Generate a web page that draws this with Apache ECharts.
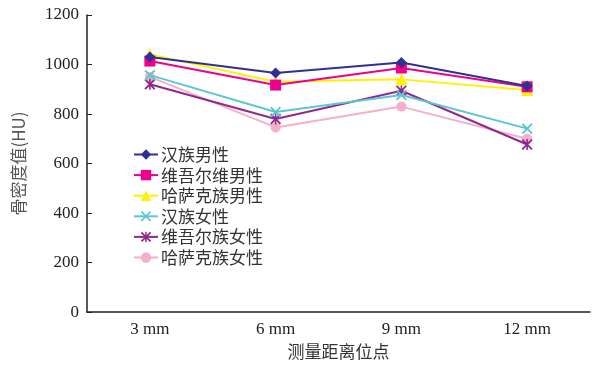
<!DOCTYPE html>
<html><head><meta charset="utf-8">
<script src="https://cdn.jsdelivr.net/npm/echarts@6/dist/echarts.min.js"></script>
<style>html,body{margin:0;padding:0;background:#fff}#c{width:595px;height:365px}</style>
</head><body><div id="c"></div>
<script>
const categories = ['3 mm', '6 mm', '9 mm', '12 mm'];
const seriesNames = ['汉族男性', '维吾尔维男性', '哈萨克族男性', '汉族女性', '维吾尔族女性', '哈萨克族女性'];
const hanMale = [1030, 966, 1008, 913];
const uyghurMale = [1014, 917, 986, 910];
const kazakhMale = [1041, 930, 940, 897];
const hanFemale = [957, 808, 877, 741];
const uyghurFemale = [920, 780, 894, 677];
const kazakhFemale = [950, 746, 830, 700];
const yTicks = [0, 200, 400, 600, 800, 1000, 1200];

const colors = ['#2E3192', '#EC008C', '#FFF200', '#5BC8D0', '#92278F', '#F4AFCB'];
const X = 'path://M0,1.2 L1.2,0 L5,3.8 L8.8,0 L10,1.2 L6.2,5 L10,8.8 L8.8,10 L5,6.2 L1.2,10 L0,8.8 L3.8,5 Z';
const AST = 'path://M0,1.2 L1.2,0 L5,3.8 L8.8,0 L10,1.2 L6.2,5 L10,8.8 L8.8,10 L5,6.2 L1.2,10 L0,8.8 L3.8,5 Z M4.3,0 L5.7,0 L5.7,10 L4.3,10 Z';
const symbols = ['diamond', 'rect', 'triangle', X, AST, 'circle'];
const sizes = [11, 11, 12, 11, 11, 10];
const datas = [hanMale, uyghurMale, kazakhMale, hanFemale, uyghurFemale, kazakhFemale];

const chart = echarts.init(document.getElementById('c'));
const serif = '"Liberation Serif", "Noto Sans CJK SC", serif';
chart.setOption({
  animation: false,
  grid: {left: 87, right: 5, top: 15, bottom: 51},
  legend: {
    orient: 'vertical', left: 128, top: 141, itemGap: 3.6,
    itemWidth: 24, itemHeight: 13,
    textStyle: {fontFamily: '"Noto Sans CJK SC", serif', fontSize: 17, color: '#333', padding: [0, 0, 0, -2]},
    data: seriesNames
  },
  xAxis: {
    type: 'category', data: categories, boundaryGap: true,
    name: '测量距离位点', nameLocation: 'middle', nameGap: 30,
    nameTextStyle: {fontFamily: '"Noto Sans CJK SC", serif', fontSize: 17, color: '#333'},
    axisLine: {lineStyle: {color: '#222', width: 1.5}},
    axisTick: {inside: true, length: 5, lineStyle: {color: '#222'}},
    axisLabel: {fontFamily: serif, fontSize: 17, color: '#222', margin: 9}
  },
  yAxis: {
    type: 'value', min: 0, max: 1200, interval: 200,
    name: '骨密度值(HU)', nameLocation: 'middle', nameGap: 60,
    nameTextStyle: {fontFamily: '"Noto Sans CJK SC", serif', fontSize: 17, color: '#555'},
    axisLine: {show: true, lineStyle: {color: '#222', width: 1.5}},
    axisTick: {show: true, inside: true, length: 5, lineStyle: {color: '#222'}},
    splitLine: {show: false},
    axisLabel: {fontFamily: serif, fontSize: 17, color: '#222', margin: 8,
      formatter: v => yTicks.includes(v) ? String(v) : ''}
  },
  series: datas.map((d, i) => ({
    name: seriesNames[i], type: 'line', data: d,
    symbol: symbols[i], symbolSize: sizes[i],
    lineStyle: {color: colors[i], width: 2},
    itemStyle: {color: colors[i]},
    z: 10 - i
  }))
});
</script></body></html>
